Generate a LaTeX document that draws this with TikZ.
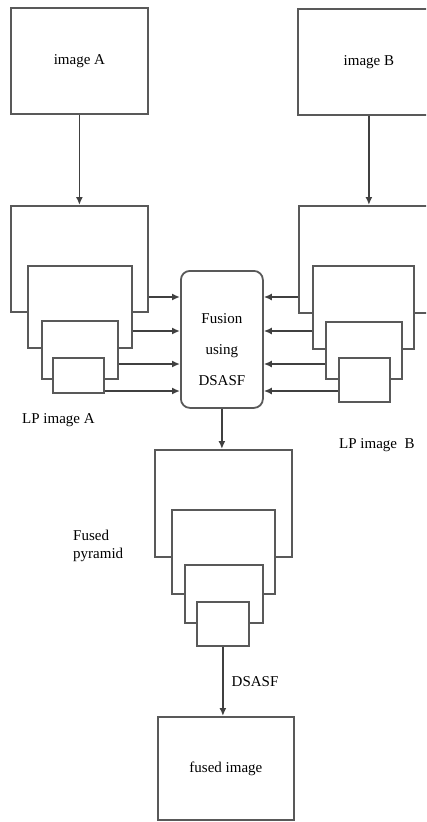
\documentclass[tikz,border=0pt]{standalone}
\usepackage{fontspec}
\setmainfont{Liberation Serif}
\usetikzlibrary{arrows.meta, positioning, calc}
\tikzset{
    imgbox/.style={
        rectangle, draw=black!65, fill=white,
        line width=1.8pt, inner sep=0pt, anchor=north west,
        font=\fontsize{15}{17}\selectfont, align=center
    },
    level/.style={
        rectangle, draw=black!65, fill=white,
        line width=1.8pt, inner sep=0pt, anchor=north west
    },
    fusionbox/.style={
        rectangle, rounded corners=9pt,
        draw=black!65, fill=white, line width=1.8pt,
        inner sep=0pt, anchor=north west,
        font=\fontsize{15}{31}\selectfont, align=center
    },
    lbl/.style={font=\fontsize{15}{18}\selectfont, inner sep=0pt, anchor=west, align=left},
    arrow/.style={-{Latex[length=8pt,width=7pt]}, line width=1.6pt, draw=black!75}
}
\begin{document}
\begin{tikzpicture}[x=1pt, y=-1pt]
    \useasboundingbox (0,0) rectangle (426,822);
    \clip (0,0) rectangle (426,822);

    % source images
    \node[imgbox, minimum width=137pt, minimum height=106pt] (imgA) at (10,7) {image A};
    \node[imgbox, minimum width=142pt, minimum height=106pt] (imgB) at (297,8) {image B};

    % Laplacian pyramid of A
    \node[level, minimum width=137pt, minimum height=106pt] (pA1) at (10,205) {};
    \node[level, minimum width=104pt, minimum height=82pt] (pA2) at (27,265) {};
    \node[level, minimum width=76pt, minimum height=58pt] (pA3) at (41,320) {};
    \node[level, minimum width=51pt, minimum height=35pt] (pA4) at (52,357) {};

    % Laplacian pyramid of B
    \node[level, minimum width=141pt, minimum height=107pt] (pB1) at (298,205) {};
    \node[level, minimum width=101pt, minimum height=83pt] (pB2) at (312,265) {};
    \node[level, minimum width=76pt, minimum height=57pt] (pB3) at (325,321) {};
    \node[level, minimum width=51pt, minimum height=44pt] (pB4) at (338,357) {};

    \node[fusionbox, minimum width=82pt, minimum height=137pt] (fusion) at (180,270)
        {\rule{0pt}{30pt}Fusion\\using\\DSASF};

    % fused pyramid
    \node[level, minimum width=137pt, minimum height=107pt] (pF1) at (154,449) {};
    \node[level, minimum width=103pt, minimum height=84pt] (pF2) at (171,509) {};
    \node[level, minimum width=78pt, minimum height=58pt] (pF3) at (184,564) {};
    \node[level, minimum width=52pt, minimum height=44pt] (pF4) at (196,601) {};

    \node[imgbox, minimum width=136pt, minimum height=103pt] (out) at (157,716) {fused image};

    \node[lbl] (lpA) at (22,420) {LP image A};
    \node[lbl] (lpB) at (339,445) {LP image\ \ B};
    \node[lbl] (fusedlbl) at (73,546) {Fused\\pyramid};

    \coordinate (row1) at (0,297);
    \coordinate (row2) at (0,331);
    \coordinate (row3) at (0,364);
    \coordinate (row4) at (0,391);

    \draw[arrow] (imgA.south) -- (imgA.south |- pA1.north);
    \draw[arrow] (imgB.south) -- (imgB.south |- pB1.north);

    \draw[arrow] (pA1.east |- row1) -- (fusion.west |- row1);
    \draw[arrow] (pA2.east |- row2) -- (fusion.west |- row2);
    \draw[arrow] (pA3.east |- row3) -- (fusion.west |- row3);
    \draw[arrow] (pA4.east |- row4) -- (fusion.west |- row4);

    \draw[arrow] (pB1.west |- row1) -- (fusion.east |- row1);
    \draw[arrow] (pB2.west |- row2) -- (fusion.east |- row2);
    \draw[arrow] (pB3.west |- row3) -- (fusion.east |- row3);
    \draw[arrow] (pB4.west |- row4) -- (fusion.east |- row4);

    \draw[arrow] (fusion.south) -- (fusion.south |- pF1.north);
    \draw[arrow] (pF4.south) -- node[lbl, right=8pt] (dsasf) {DSASF} (pF4.south |- out.north);
\end{tikzpicture}
\end{document}
